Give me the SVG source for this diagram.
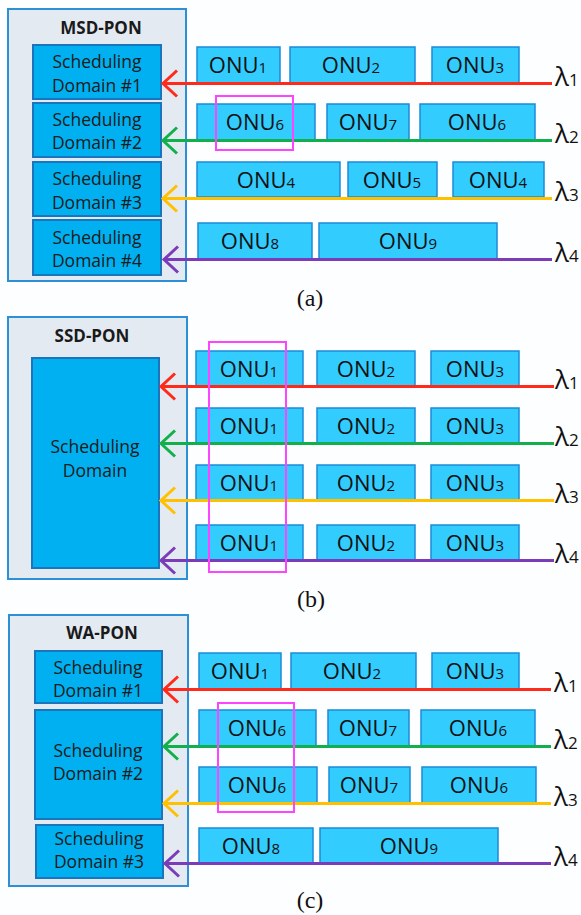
<svg xmlns="http://www.w3.org/2000/svg" width="581" height="915" viewBox="0 0 581 915">
<style>
.bg{fill:#fdfeff}
.outer{fill:#e4eaf2;stroke:#2d8fd5;stroke-width:2}
.sd{fill:#00b0f0;stroke:#1b75bc;stroke-width:2}
.onu{fill:#33ccff;stroke:#1d8ad6;stroke-width:1.5}
.hl{fill:none;stroke:#ff44ff;stroke-width:2}
.title{font-family:"Open Sans",sans-serif;font-weight:bold;font-size:17px;text-anchor:middle;fill:#1a1a1a}
.sdt{font-family:"Open Sans",sans-serif;font-size:17.5px;text-anchor:middle;fill:#1a1a1a}
.ot{font-family:"Open Sans",sans-serif;font-size:22px;text-anchor:middle;fill:#111}
.sub{font-size:15px}
.lam{font-family:"Open Sans",sans-serif;font-size:26px;fill:#111}
.lsub{font-size:17px}
.cap{font-family:"Liberation Serif",serif;font-size:24px;text-anchor:middle;fill:#111}
.w{fill:none;stroke-width:3}
.r{stroke:#ff2a1a}.g{stroke:#12b04c}.y{stroke:#ffc000}.p{stroke:#7a3cb8}
</style>
<defs>
<marker id="mr" markerUnits="userSpaceOnUse" viewBox="-16 -15 20 30" refX="0" refY="0" markerWidth="20" markerHeight="30" orient="auto"><path d="M-14,-13 L0,0 L-14,13" fill="none" stroke="#ff2a1a" stroke-width="3"/></marker>
<marker id="mg" markerUnits="userSpaceOnUse" viewBox="-16 -15 20 30" refX="0" refY="0" markerWidth="20" markerHeight="30" orient="auto"><path d="M-14,-13 L0,0 L-14,13" fill="none" stroke="#12b04c" stroke-width="3"/></marker>
<marker id="my" markerUnits="userSpaceOnUse" viewBox="-16 -15 20 30" refX="0" refY="0" markerWidth="20" markerHeight="30" orient="auto"><path d="M-14,-13 L0,0 L-14,13" fill="none" stroke="#ffc000" stroke-width="3"/></marker>
<marker id="mp" markerUnits="userSpaceOnUse" viewBox="-16 -15 20 30" refX="0" refY="0" markerWidth="20" markerHeight="30" orient="auto"><path d="M-14,-13 L0,0 L-14,13" fill="none" stroke="#7a3cb8" stroke-width="3"/></marker>
</defs>
<rect class="bg" x="0" y="0" width="581" height="915"/>

<!-- Panel (a) -->
<g id="msd-pon">
<rect class="outer" x="8" y="9" width="178" height="272"/>
<text class="title" x="101" y="34">MSD-PON</text>
</g>
<g id="a-sd1"><rect class="sd" x="33" y="45" width="128" height="54"/><text class="sdt" x="97" y="68">Scheduling</text><text class="sdt" x="97" y="92">Domain #1</text></g>
<g id="a-sd2"><rect class="sd" x="33" y="103" width="128" height="54"/><text class="sdt" x="97" y="126">Scheduling</text><text class="sdt" x="97" y="149">Domain #2</text></g>
<g id="a-sd3"><rect class="sd" x="33" y="162" width="128" height="54"/><text class="sdt" x="97" y="185">Scheduling</text><text class="sdt" x="97" y="209">Domain #3</text></g>
<g id="a-sd4"><rect class="sd" x="33" y="220" width="128" height="55"/><text class="sdt" x="97" y="244">Scheduling</text><text class="sdt" x="97" y="267">Domain #4</text></g>

<g id="a-onu1"><rect class="onu" x="197" y="47" width="83" height="36"/><text class="ot" x="238" y="73">ONU<tspan class="sub">1</tspan></text></g>
<g id="a-onu2"><rect class="onu" x="290" y="47" width="125" height="36"/><text class="ot" x="351" y="73">ONU<tspan class="sub">2</tspan></text></g>
<g id="a-onu3"><rect class="onu" x="432" y="47" width="87" height="36"/><text class="ot" x="475" y="73">ONU<tspan class="sub">3</tspan></text></g>
<g id="a-onu6a"><rect class="onu" x="197" y="104" width="118" height="36"/><text class="ot" x="255" y="130">ONU<tspan class="sub">6</tspan></text></g>
<g id="a-onu7"><rect class="onu" x="327" y="104" width="82" height="36"/><text class="ot" x="368" y="130">ONU<tspan class="sub">7</tspan></text></g>
<g id="a-onu6b"><rect class="onu" x="420" y="104" width="115" height="36"/><text class="ot" x="477" y="130">ONU<tspan class="sub">6</tspan></text></g>
<g id="a-onu4a"><rect class="onu" x="197" y="162" width="143" height="35"/><text class="ot" x="266" y="188">ONU<tspan class="sub">4</tspan></text></g>
<g id="a-onu5"><rect class="onu" x="348" y="162" width="89" height="35"/><text class="ot" x="392" y="188">ONU<tspan class="sub">5</tspan></text></g>
<g id="a-onu4b"><rect class="onu" x="453" y="162" width="91" height="35"/><text class="ot" x="498" y="188">ONU<tspan class="sub">4</tspan></text></g>
<g id="a-onu8"><rect class="onu" x="198" y="223" width="114" height="36"/><text class="ot" x="250" y="249">ONU<tspan class="sub">8</tspan></text></g>
<g id="a-onu9"><rect class="onu" x="319" y="223" width="178" height="36"/><text class="ot" x="408" y="249">ONU<tspan class="sub">9</tspan></text></g>

<!-- Panel (b) -->
<g id="ssd-pon">
<rect class="outer" x="8" y="317" width="179" height="262"/>
<text class="title" x="92" y="342">SSD-PON</text>
</g>
<g id="b-sd"><rect class="sd" x="32" y="358" width="127" height="210"/><text class="sdt" x="95" y="453">Scheduling</text><text class="sdt" x="95" y="477">Domain</text></g>

<g id="b-onu1a"><rect class="onu" x="196" y="351" width="107" height="35"/><text class="ot" x="249" y="377">ONU<tspan class="sub">1</tspan></text></g>
<g id="b-onu2a"><rect class="onu" x="317" y="351" width="98" height="35"/><text class="ot" x="366" y="377">ONU<tspan class="sub">2</tspan></text></g>
<g id="b-onu3a"><rect class="onu" x="431" y="351" width="88" height="35"/><text class="ot" x="475" y="377">ONU<tspan class="sub">3</tspan></text></g>
<g id="b-onu1b"><rect class="onu" x="196" y="408" width="107" height="35"/><text class="ot" x="249" y="434">ONU<tspan class="sub">1</tspan></text></g>
<g id="b-onu2b"><rect class="onu" x="317" y="408" width="98" height="35"/><text class="ot" x="366" y="434">ONU<tspan class="sub">2</tspan></text></g>
<g id="b-onu3b"><rect class="onu" x="431" y="408" width="88" height="35"/><text class="ot" x="475" y="434">ONU<tspan class="sub">3</tspan></text></g>
<g id="b-onu1c"><rect class="onu" x="196" y="465" width="107" height="35"/><text class="ot" x="249" y="491">ONU<tspan class="sub">1</tspan></text></g>
<g id="b-onu2c"><rect class="onu" x="317" y="465" width="98" height="35"/><text class="ot" x="366" y="491">ONU<tspan class="sub">2</tspan></text></g>
<g id="b-onu3c"><rect class="onu" x="431" y="465" width="88" height="35"/><text class="ot" x="475" y="491">ONU<tspan class="sub">3</tspan></text></g>
<g id="b-onu1d"><rect class="onu" x="196" y="525" width="107" height="35"/><text class="ot" x="249" y="551">ONU<tspan class="sub">1</tspan></text></g>
<g id="b-onu2d"><rect class="onu" x="317" y="525" width="98" height="35"/><text class="ot" x="366" y="551">ONU<tspan class="sub">2</tspan></text></g>
<g id="b-onu3d"><rect class="onu" x="431" y="525" width="88" height="35"/><text class="ot" x="475" y="551">ONU<tspan class="sub">3</tspan></text></g>

<!-- Panel (c) -->
<g id="wa-pon">
<rect class="outer" x="9" y="615" width="179" height="271"/>
<text class="title" x="102" y="639">WA-PON</text>
</g>
<g id="c-sd1"><rect class="sd" x="35" y="651" width="127" height="52"/><text class="sdt" x="98" y="674">Scheduling</text><text class="sdt" x="98" y="697">Domain #1</text></g>
<g id="c-sd2"><rect class="sd" x="35" y="710" width="127" height="109"/><text class="sdt" x="98" y="757">Scheduling</text><text class="sdt" x="98" y="780">Domain #2</text></g>
<g id="c-sd3"><rect class="sd" x="36" y="825" width="127" height="53"/><text class="sdt" x="99" y="845">Scheduling</text><text class="sdt" x="99" y="868">Domain #3</text></g>

<g id="c-onu1"><rect class="onu" x="199" y="653" width="82" height="36"/><text class="ot" x="240" y="679">ONU<tspan class="sub">1</tspan></text></g>
<g id="c-onu2"><rect class="onu" x="291" y="653" width="125" height="36"/><text class="ot" x="352" y="679">ONU<tspan class="sub">2</tspan></text></g>
<g id="c-onu3"><rect class="onu" x="432" y="653" width="87" height="36"/><text class="ot" x="475" y="679">ONU<tspan class="sub">3</tspan></text></g>
<g id="c-onu6a"><rect class="onu" x="199" y="710" width="117" height="36"/><text class="ot" x="257" y="736">ONU<tspan class="sub">6</tspan></text></g>
<g id="c-onu7a"><rect class="onu" x="328" y="710" width="81" height="36"/><text class="ot" x="368" y="736">ONU<tspan class="sub">7</tspan></text></g>
<g id="c-onu6b"><rect class="onu" x="421" y="710" width="114" height="36"/><text class="ot" x="478" y="736">ONU<tspan class="sub">6</tspan></text></g>
<g id="c-onu6c"><rect class="onu" x="199" y="767" width="118" height="36"/><text class="ot" x="257" y="793">ONU<tspan class="sub">6</tspan></text></g>
<g id="c-onu7b"><rect class="onu" x="329" y="767" width="81" height="36"/><text class="ot" x="369" y="793">ONU<tspan class="sub">7</tspan></text></g>
<g id="c-onu6d"><rect class="onu" x="422" y="767" width="114" height="36"/><text class="ot" x="479" y="793">ONU<tspan class="sub">6</tspan></text></g>
<g id="c-onu8"><rect class="onu" x="199" y="828" width="114" height="35"/><text class="ot" x="251" y="854">ONU<tspan class="sub">8</tspan></text></g>
<g id="c-onu9"><rect class="onu" x="320" y="828" width="178" height="35"/><text class="ot" x="409" y="854">ONU<tspan class="sub">9</tspan></text></g>

<!-- connectors -->
<g id="connectors">
<path class="w r" d="M552,83.5 H163" marker-end="url(#mr)"/>
<path class="w g" d="M552,140.5 H163" marker-end="url(#mg)"/>
<path class="w y" d="M552,198.5 H163" marker-end="url(#my)"/>
<path class="w p" d="M552,259.5 H164" marker-end="url(#mp)"/>
<path class="w r" d="M554,386.5 H161" marker-end="url(#mr)"/>
<path class="w g" d="M554,443.5 H161" marker-end="url(#mg)"/>
<path class="w y" d="M554,500.5 H161" marker-end="url(#my)"/>
<path class="w p" d="M554,560.5 H161" marker-end="url(#mp)"/>
<path class="w r" d="M551,689.5 H164" marker-end="url(#mr)"/>
<path class="w g" d="M551,746.5 H164" marker-end="url(#mg)"/>
<path class="w y" d="M551,803.5 H164" marker-end="url(#my)"/>
<path class="w p" d="M551,863.5 H165" marker-end="url(#mp)"/>
</g>

<g id="highlights">
<rect class="hl" x="216" y="96" width="77" height="54"/>
<rect class="hl" x="209" y="342" width="77" height="230"/>
<rect class="hl" x="218" y="703" width="76" height="109"/>
</g>

<g id="labels">
<text class="lam" x="555" y="86">λ<tspan class="lsub">1</tspan></text>
<text class="lam" x="555" y="143">λ<tspan class="lsub">2</tspan></text>
<text class="lam" x="555" y="201">λ<tspan class="lsub">3</tspan></text>
<text class="lam" x="555" y="262">λ<tspan class="lsub">4</tspan></text>
<text class="lam" x="555" y="389">λ<tspan class="lsub">1</tspan></text>
<text class="lam" x="555" y="446">λ<tspan class="lsub">2</tspan></text>
<text class="lam" x="555" y="503">λ<tspan class="lsub">3</tspan></text>
<text class="lam" x="555" y="563">λ<tspan class="lsub">4</tspan></text>
<text class="lam" x="554" y="692">λ<tspan class="lsub">1</tspan></text>
<text class="lam" x="554" y="749">λ<tspan class="lsub">2</tspan></text>
<text class="lam" x="554" y="806">λ<tspan class="lsub">3</tspan></text>
<text class="lam" x="554" y="866">λ<tspan class="lsub">4</tspan></text>
<text class="cap" x="310" y="306">(a)</text>
<text class="cap" x="311" y="607">(b)</text>
<text class="cap" x="310" y="908">(c)</text>
</g>
</svg>
